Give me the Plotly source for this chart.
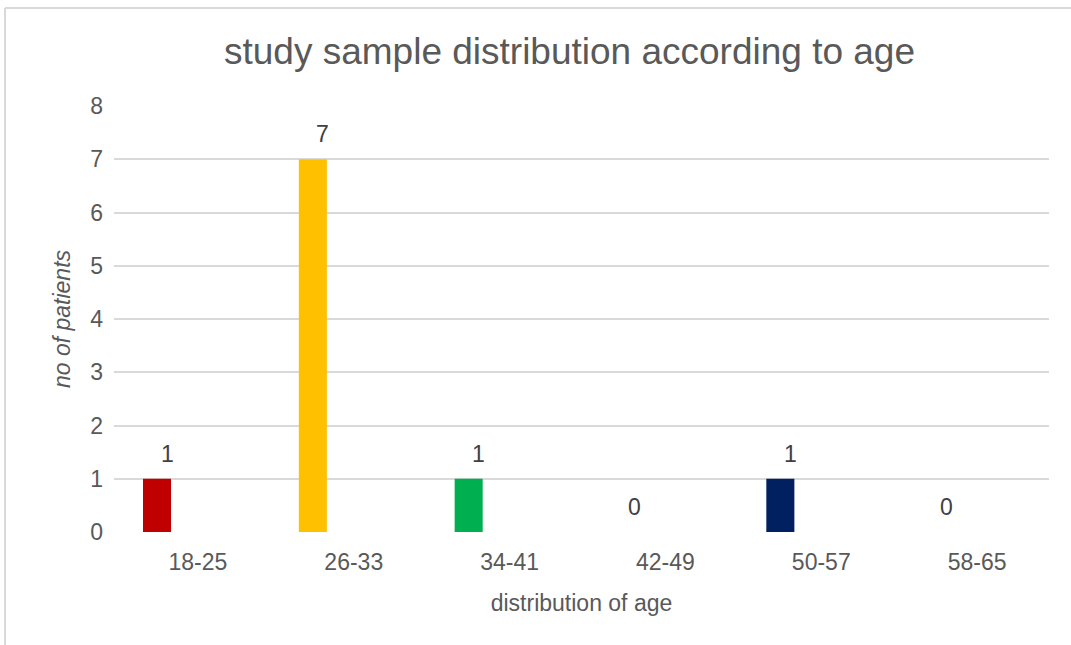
import plotly.graph_objects as go

categories = ["18-25", "26-33", "34-41", "42-49", "50-57", "58-65"]
patients = [1, 7, 1, 0, 1, 0]
bar_colors = ["#C00000", "#FFC000", "#00B050", "#7F7F7F", "#002060", "#7F7F7F"]
y_ticks = [0, 1, 2, 3, 4, 5, 6, 7, 8]

W, H = 1071, 645
ML, MR, MT, MB = 114, 22, 106, 113
PW, PH = W - ML - MR, H - MT - MB

BAR_OFFSET = -0.314
BAR_WIDTH = 0.18
TEXT_COLOR = "#595959"
FONT = "Liberation Sans, Arial, sans-serif"

xs = list(range(len(categories)))

fig = go.Figure()
fig.add_trace(go.Bar(
    x=xs, y=patients,
    offset=BAR_OFFSET, width=BAR_WIDTH,
    marker=dict(color=bar_colors, line=dict(width=0)),
    hoverinfo="x+y",
))

annotations = []
for xi, v in zip(xs, patients):
    annotations.append(dict(
        x=xi + BAR_OFFSET + BAR_WIDTH / 2, y=v, xref="x", yref="y",
        text=str(v), showarrow=False, xshift=10, yshift=25,
        yanchor="middle", xanchor="center",
        font=dict(size=23, color="#404040", family=FONT),
    ))


def px_x(p):
    return (p - ML) / PW


def px_y(p):
    return (H - MB - p) / PH


shapes = [
    dict(type="line", xref="paper", yref="paper",
         x0=px_x(5), x1=px_x(5), y0=px_y(8), y1=px_y(H + 5),
         line=dict(color="#D9D9D9", width=2)),
    dict(type="line", xref="paper", yref="paper",
         x0=px_x(5), x1=px_x(W + 5), y0=px_y(8), y1=px_y(8),
         line=dict(color="#D9D9D9", width=2)),
]

fig.update_layout(
    width=W, height=H,
    margin=dict(l=ML, r=MR, t=MT, b=MB),
    paper_bgcolor="white", plot_bgcolor="white",
    showlegend=False,
    font=dict(family=FONT, color=TEXT_COLOR),
    title=dict(
        text="study sample distribution according to age",
        x=569.5 / W, xanchor="center", xref="container",
        y=1 - 51 / H, yanchor="middle", yref="container",
        font=dict(size=37, color=TEXT_COLOR, family=FONT),
    ),
    xaxis=dict(
        tickmode="array", tickvals=xs, ticktext=categories,
        range=[-0.5, len(categories) - 0.5],
        showgrid=False, zeroline=False, showline=False,
        ticks="", ticklabelshift=6, ticklabelstandoff=14,
        tickfont=dict(size=23, color=TEXT_COLOR, family=FONT),
        title=dict(text="distribution of age", standoff=20,
                   font=dict(size=23, color=TEXT_COLOR, family=FONT)),
    ),
    yaxis=dict(
        range=[0, 8], tickmode="array", tickvals=y_ticks,
        showgrid=True, gridcolor="#D9D9D9", gridwidth=1.5,
        zeroline=False, showline=False, ticks="",
        ticklabelstandoff=10,
        tickfont=dict(size=23, color=TEXT_COLOR, family=FONT),
        title=dict(text="<i>no of patients</i>", standoff=13,
                   font=dict(size=23, color=TEXT_COLOR, family=FONT)),
    ),
    annotations=annotations,
    shapes=shapes,
)

fig.write_html(
    "out.html",
    config={"displayModeBar": False},
    post_script="document.body.style.margin='0';",
)
